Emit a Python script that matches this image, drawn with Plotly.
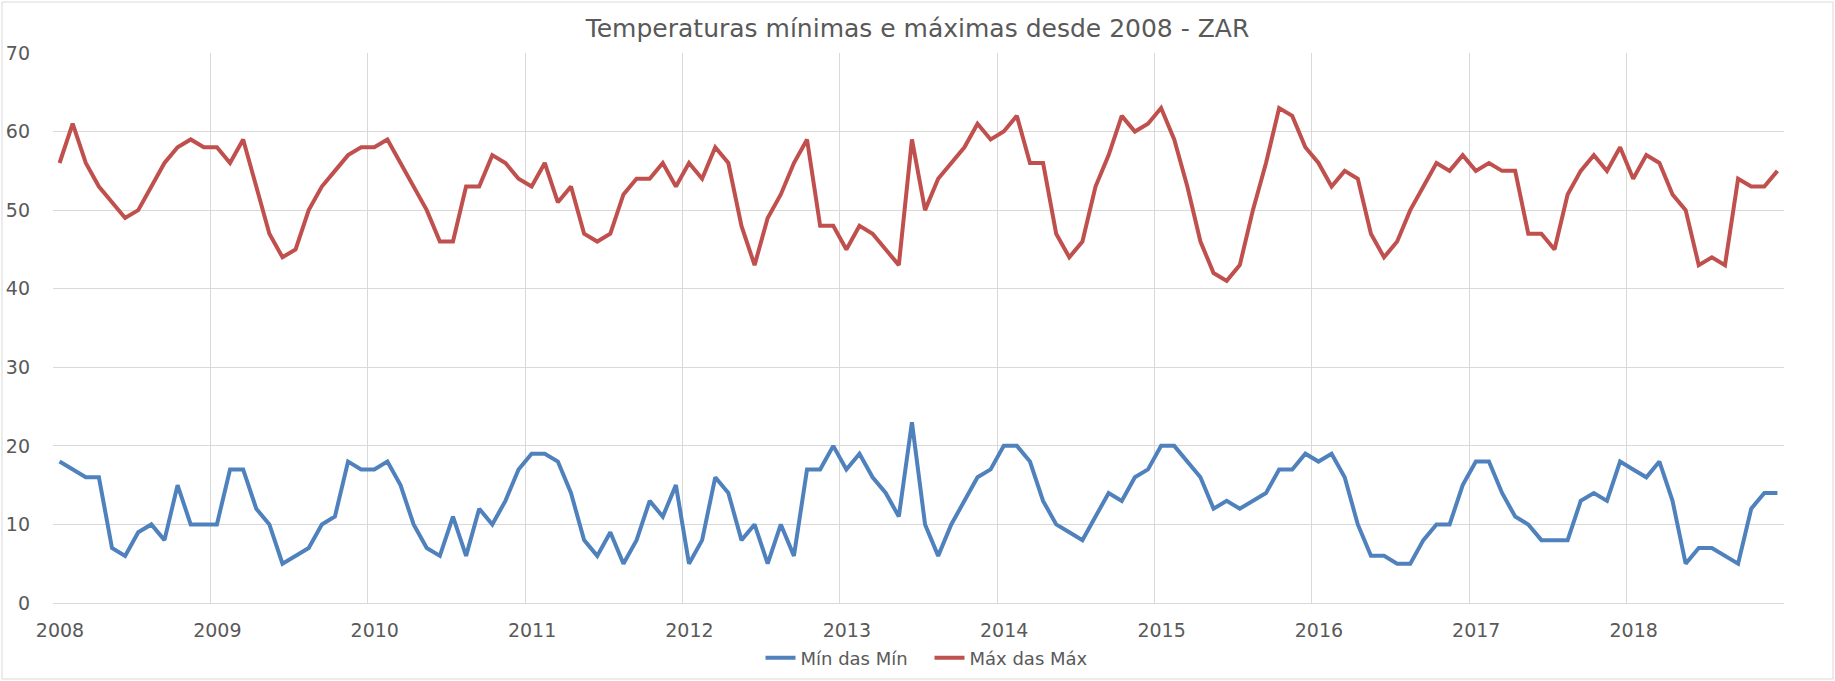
import plotly.graph_objects as go

# ---- data (monthly, Jan 2008 .. Dec 2018) ----
years = ["2008", "2009", "2010", "2011", "2012", "2013", "2014", "2015", "2016", "2017", "2018"]

min_das_min = [
    18, 17, 16, 16, 7, 6, 9, 10, 8, 15, 10, 10,      # 2008
    10, 17, 17, 12, 10, 5, 6, 7, 10, 11, 18, 17,     # 2009
    17, 18, 15, 10, 7, 6, 11, 6, 12, 10, 13, 17,     # 2010
    19, 19, 18, 14, 8, 6, 9, 5, 8, 13, 11, 15,       # 2011
    5, 8, 16, 14, 8, 10, 5, 10, 6, 17, 17, 20,       # 2012
    17, 19, 16, 14, 11, 23, 10, 6, 10, 13, 16, 17,   # 2013
    20, 20, 18, 13, 10, 9, 8, 11, 14, 13, 16, 17,    # 2014
    20, 20, 18, 16, 12, 13, 12, 13, 14, 17, 17, 19,  # 2015
    18, 19, 16, 10, 6, 6, 5, 5, 8, 10, 10, 15,       # 2016
    18, 18, 14, 11, 10, 8, 8, 8, 13, 14, 13, 18,     # 2017
    17, 16, 18, 13, 5, 7, 7, 6, 5, 12, 14, 14,       # 2018
]

max_das_max = [
    56, 61, 56, 53, 51, 49, 50, 53, 56, 58, 59, 58,  # 2008
    58, 56, 59, 53, 47, 44, 45, 50, 53, 55, 57, 58,  # 2009
    58, 59, 56, 53, 50, 46, 46, 53, 53, 57, 56, 54,  # 2010
    53, 56, 51, 53, 47, 46, 47, 52, 54, 54, 56, 53,  # 2011
    56, 54, 58, 56, 48, 43, 49, 52, 56, 59, 48, 48,  # 2012
    45, 48, 47, 45, 43, 59, 50, 54, 56, 58, 61, 59,  # 2013
    60, 62, 56, 56, 47, 44, 46, 53, 57, 62, 60, 61,  # 2014
    63, 59, 53, 46, 42, 41, 43, 50, 56, 63, 62, 58,  # 2015
    56, 53, 55, 54, 47, 44, 46, 50, 53, 56, 55, 57,  # 2016
    55, 56, 55, 55, 47, 47, 45, 52, 55, 57, 55, 58,  # 2017
    54, 57, 56, 52, 50, 43, 44, 43, 54, 53, 53, 55,  # 2018
]

months = list(range(len(min_das_min)))  # month index along the category axis

# ---- styling ----
W, H = 1835, 681
ML, MR, MT, MB = 53, 51, 53, 78
BLUE = "#4F81BD"
RED = "#C0504D"
GRID = "#D9D9D9"
TXT = "#595959"
FONT = "DejaVu Sans"

fig = go.Figure()
fig.add_trace(go.Scatter(x=months, y=min_das_min, mode="lines", name="Mín das Mín",
                         line=dict(color=BLUE, width=4)))
fig.add_trace(go.Scatter(x=months, y=max_das_max, mode="lines", name="Máx das Máx",
                         line=dict(color=RED, width=4)))

tickvals = [12 * k - 0.5 for k in range(len(years) + 1)]
ticktext = years + [""]

# chart-area border (in paper coords)
pw = W - ML - MR
ph = H - MT - MB
def px_x(p):
    return (p - ML) / pw
def px_y(p):
    return (H - MB - p) / ph

fig.add_shape(type="rect", xref="paper", yref="paper",
              x0=px_x(2), x1=px_x(W - 2), y0=px_y(H - 2), y1=px_y(2),
              line=dict(color=GRID, width=1), fillcolor="rgba(0,0,0,0)", layer="below")

fig.update_layout(
    width=W, height=H,
    margin=dict(l=ML, r=MR, t=MT, b=MB, autoexpand=False),
    paper_bgcolor="white", plot_bgcolor="white",
    font=dict(family=FONT, color=TXT, size=18),
    title=dict(text="Temperaturas mínimas e máximas desde 2008 - ZAR",
               x=0.5, xref="container", xanchor="center",
               y=1 - 28 / H, yref="container", yanchor="middle",
               font=dict(family=FONT, size=25, color=TXT)),
    showlegend=True,
    legend=dict(orientation="h", x=0.5 + 12 / W, xanchor="center", xref="container",
                y=(H - 658) / H, yanchor="middle", yref="container",
                font=dict(family=FONT, size=18, color=TXT), bgcolor="rgba(0,0,0,0)",
                itemwidth=30, entrywidth=124, entrywidthmode="pixels",
                traceorder="normal"),
    xaxis=dict(range=[-0.5, len(months) - 0.5], tickmode="array", tickvals=tickvals,
               ticktext=ticktext, showgrid=True, gridcolor=GRID, gridwidth=1,
               zeroline=False, showline=True, linecolor=GRID, linewidth=1,
               ticks="", ticklabelshift=7, ticklabelstandoff=10, automargin=False,
               tickfont=dict(family=FONT, size=19, color=TXT)),
    yaxis=dict(range=[0, 70], dtick=10, tick0=0, showgrid=True, gridcolor=GRID, gridwidth=1,
               zeroline=False, showline=False, ticks="", ticklabelstandoff=22, automargin=False,
               tickfont=dict(family=FONT, size=19, color=TXT)),
)

fig.write_html("out.html", config={"displayModeBar": False},
               post_script="document.body.style.margin='0';document.body.style.padding='0';")
